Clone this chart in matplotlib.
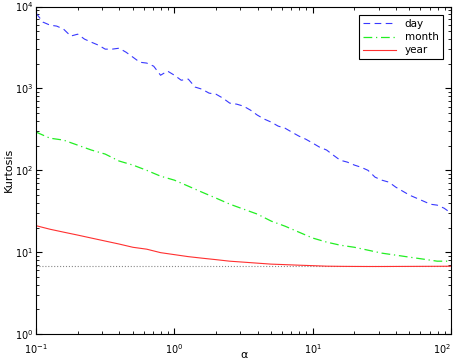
import numpy as np
import matplotlib
matplotlib.use("Agg")
import matplotlib.pyplot as plt

# alpha grids (log-spaced)
alpha_fine = [0.1, 0.112, 0.126, 0.141, 0.158, 0.178, 0.2, 0.224, 0.251, 0.282,
              0.316, 0.355, 0.398, 0.447, 0.501, 0.562, 0.631, 0.708, 0.794, 0.891,
              1.0, 1.12, 1.26, 1.41, 1.58, 1.78, 2.0, 2.24, 2.51, 2.82,
              3.16, 3.55, 3.98, 4.47, 5.01, 5.62, 6.31, 7.08, 7.94, 8.91,
              10.0, 11.2, 12.6, 14.1, 15.8, 17.8, 20.0, 22.4, 25.1, 28.2,
              31.6, 35.5, 39.8, 44.7, 50.1, 56.2, 63.1, 70.8, 79.4, 89.1, 100.0]
alpha_coarse = [0.1, 0.126, 0.158, 0.2, 0.251, 0.316, 0.398, 0.501, 0.631, 0.794,
                1.0, 1.26, 1.58, 2.0, 2.51, 3.16, 3.98, 5.01, 6.31, 7.94,
                10.0, 12.6, 15.8, 20.0, 25.1, 31.6, 39.8, 50.1, 63.1, 79.4, 100.0]

kurt_day = [8300, 6460, 5930, 5770, 5300, 4360, 4600, 4000, 3670, 3380,
            3020, 3020, 3100, 2770, 2410, 2090, 2040, 1870, 1450, 1630,
            1450, 1260, 1300, 1040, 980, 877, 850, 762, 662, 643,
            608, 543, 472, 422, 388, 347, 327, 292, 262, 240,
            215, 192, 177, 153, 133, 126, 116, 109, 100, 82.6,
            75.9, 71.8, 62.4, 55.7, 49.8, 45.8, 42.1, 38.6, 37.6, 34.5, 30.0]
kurt_month = [293, 247, 234, 203, 177, 158, 130, 116, 100, 84.9,
              75.9, 64.1, 54.2, 45.8, 38.7, 33.6, 29.2, 24.0, 20.8, 17.6,
              14.9, 13.3, 12.2, 11.5, 10.6, 9.75, 9.22, 8.71, 8.24, 7.78, 7.78]
kurt_year = [21.1, 19.1, 17.6, 16.2, 14.9, 13.7, 12.6, 11.5, 10.9, 9.89,
             9.35, 8.84, 8.47, 8.12, 7.78, 7.57, 7.36, 7.16, 7.06, 6.95,
             6.86, 6.76, 6.73, 6.71, 6.70, 6.70, 6.71, 6.72, 6.73, 6.74, 6.75]
kurt_limit = 6.76

fig = plt.figure(figsize=(4.57, 3.64), dpi=100)
ax = fig.add_axes([0.079, 0.082, 0.908, 0.900])

ax.axhline(kurt_limit, color='#888888', linestyle=':', linewidth=0.8)
ax.loglog(alpha_fine, kurt_day, color='#3838ff', linestyle='--', linewidth=0.8,
          dashes=(6, 4), label='day')
ax.loglog(alpha_coarse, kurt_month, color='#22ee22', linestyle='-.', linewidth=0.9,
          dashes=(7, 3, 1, 3), label='month')
ax.loglog(alpha_coarse, kurt_year, color='#ff3030', linestyle='-', linewidth=0.8,
          label='year')

ax.set_xlim(0.1, 100)
ax.set_ylim(1, 1e4)
ax.set_xticks([0.1, 1, 10, 100])
ax.set_yticks([1, 10, 100, 1000, 10000])
ax.tick_params(which='both', direction='in', top=True, right=True, labelsize=7)
ax.tick_params(which='major', length=4, pad=2)
ax.tick_params(which='minor', length=2)
ax.tick_params(axis='x', which='major', pad=6)
ax.set_xlabel('α', fontsize=8)
ax.xaxis.set_label_coords(0.5, -0.048)
ax.set_ylabel('Kurtosis', fontsize=8, labelpad=1)

fig.canvas.draw()
ax.get_xticklabels()[-1].set_horizontalalignment('right')

leg = ax.legend(loc='upper right', fontsize=7.5, fancybox=False, edgecolor='black',
                framealpha=1, borderaxespad=0.8, handlelength=3.2,
                labelspacing=0.3, borderpad=0.4)
leg.get_frame().set_linewidth(0.8)

fig.savefig('out.png', dpi=100)
